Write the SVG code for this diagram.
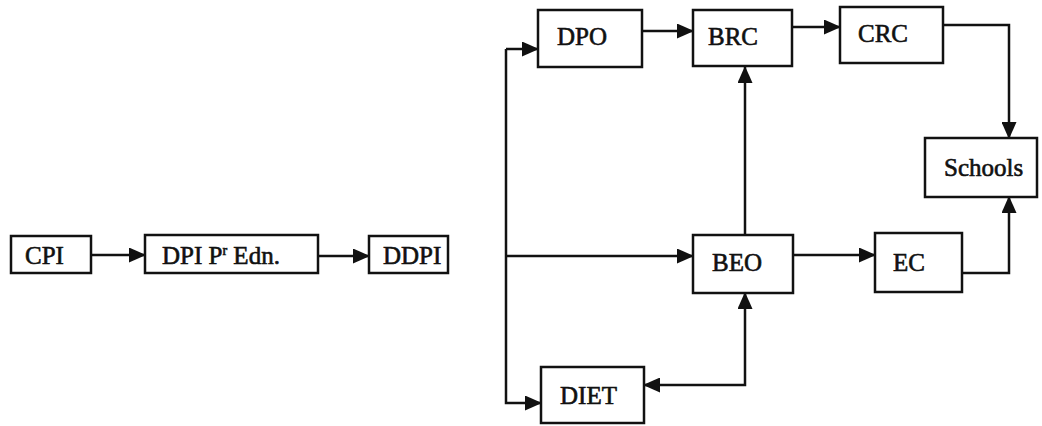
<svg xmlns="http://www.w3.org/2000/svg" width="1042" height="426" viewBox="0 0 1042 426">
<style>
.box{fill:#fff;stroke:#111;stroke-width:2.5}
.lbl{font-family:"Liberation Serif","Times New Roman",serif;font-size:25px;fill:#111;stroke:#111;stroke-width:0.6}
.ln{fill:none;stroke:#111;stroke-width:2.5}
</style>
<defs>
<marker id="ah" markerUnits="userSpaceOnUse" markerWidth="17" markerHeight="15" refX="16" refY="7.5" orient="auto">
<path d="M0,0 L17,7.5 L0,15 Z" fill="#111"/>
</marker>
</defs>
<rect width="1042" height="426" fill="#fff"/>
<g id="connectors">
<line class="ln" x1="91" y1="255" x2="145" y2="255" marker-end="url(#ah)"/>
<line class="ln" x1="318" y1="256" x2="369" y2="256" marker-end="url(#ah)"/>
<polyline class="ln" points="506,49 506,403 541,403" marker-end="url(#ah)"/>
<line class="ln" x1="506" y1="49" x2="538" y2="49" marker-end="url(#ah)"/>
<line class="ln" x1="506" y1="256" x2="693" y2="256" marker-end="url(#ah)"/>
<line class="ln" x1="642" y1="31" x2="693" y2="31" marker-end="url(#ah)"/>
<line class="ln" x1="792" y1="27" x2="840" y2="27" marker-end="url(#ah)"/>
<line class="ln" x1="745" y1="235" x2="745" y2="67" marker-end="url(#ah)"/>
<polyline class="ln" points="943,25 1009,25 1009,138" marker-end="url(#ah)"/>
<line class="ln" x1="793" y1="255" x2="875" y2="255" marker-end="url(#ah)"/>
<polyline class="ln" points="962,273 1009,273 1009,197" marker-end="url(#ah)"/>
<polyline class="ln" points="745,310 745,385 644,385" marker-end="url(#ah)"/>
<line class="ln" x1="745" y1="310" x2="745" y2="293" marker-end="url(#ah)"/>
</g>
<g id="CPI"><rect class="box" x="11" y="236" width="80" height="37"/><text class="lbl" x="25" y="264">CPI</text></g>
<g id="DPI"><rect class="box" x="145" y="235" width="173" height="38"/><text class="lbl" x="162" y="264">DPI P<tspan font-size="14" dy="-9">r</tspan><tspan dy="9"> Edn.</tspan></text></g>
<g id="DDPI"><rect class="box" x="369" y="236" width="79" height="37"/><text class="lbl" x="383" y="264">DDPI</text></g>
<g id="DPO"><rect class="box" x="538" y="10" width="104" height="57"/><text class="lbl" x="557" y="45">DPO</text></g>
<g id="BRC"><rect class="box" x="693" y="10" width="99" height="56"/><text class="lbl" x="708" y="45">BRC</text></g>
<g id="CRC"><rect class="box" x="840" y="7" width="103" height="56"/><text class="lbl" x="858" y="42">CRC</text></g>
<g id="Schools"><rect class="box" x="925" y="138" width="112" height="59"/><text class="lbl" x="944" y="176">Schools</text></g>
<g id="BEO"><rect class="box" x="693" y="235" width="100" height="58"/><text class="lbl" x="712" y="271">BEO</text></g>
<g id="EC"><rect class="box" x="875" y="233" width="87" height="59"/><text class="lbl" x="893" y="271">EC</text></g>
<g id="DIET"><rect class="box" x="541" y="367" width="103" height="56"/><text class="lbl" x="560" y="404">DIET</text></g>
</svg>
